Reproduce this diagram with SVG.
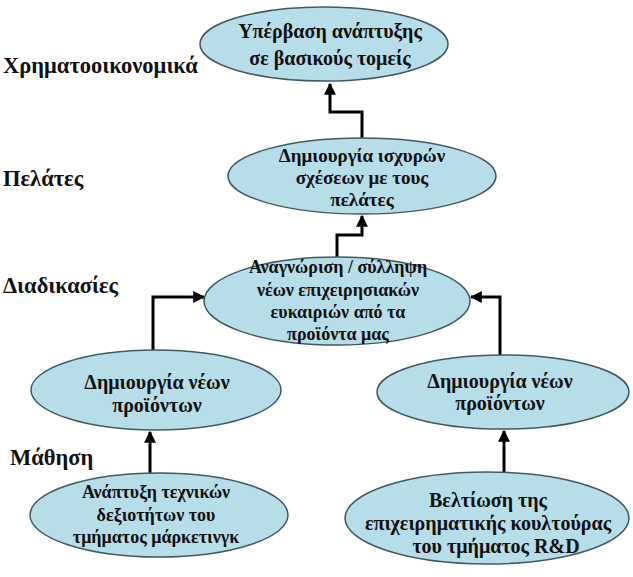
<svg xmlns="http://www.w3.org/2000/svg" width="633" height="577" viewBox="0 0 633 577">
<defs>
<style>
.node ellipse{fill:#b7dde8;stroke:#3f5a63;stroke-width:1.5}
.node text{font-family:"Liberation Serif","Times New Roman",serif;font-weight:bold;fill:#111;text-anchor:middle}
.lbl{font-family:"Liberation Serif","Times New Roman",serif;font-weight:bold;font-size:22.5px;fill:#111}
.conn path{fill:none;stroke:#000;stroke-width:3;marker-end:url(#ah)}
</style>
<marker id="ah" viewBox="0 0 10 10" refX="9" refY="5" markerWidth="4" markerHeight="4" markerUnits="strokeWidth" orient="auto">
<path d="M0,0 L10,5 L0,10 z" fill="#000"/>
</marker>
</defs>
<rect width="633" height="577" fill="#fff"/>
<g id="labels">
<text class="lbl" x="3" y="73">Χρηματοοικονομικά</text>
<text class="lbl" x="3" y="186">Πελάτες</text>
<text class="lbl" x="3" y="293">Διαδικασίες</text>
<text class="lbl" x="10" y="465">Μάθηση</text>
</g>
<g class="conn" id="connectors">
<path d="M362,138 V112 H330 V84"/>
<path d="M337,257 V235 H362 V216"/>
<path d="M153,350 V297 H204"/>
<path d="M500,355 V297 H471"/>
<path d="M150,473 V432"/>
<path d="M504,472 V431"/>
</g>
<g class="node" id="n1">
<ellipse cx="324" cy="44" rx="124" ry="37"/>
<text font-size="20" x="330" y="38">Υπέρβαση ανάπτυξης</text>
<text font-size="20" x="330" y="65">σε βασικούς τομείς</text>
</g>
<g class="node" id="n2">
<ellipse cx="362" cy="176" rx="134" ry="38"/>
<text font-size="19" x="362" y="162">Δημιουργία ισχυρών</text>
<text font-size="19" x="362" y="184">σχέσεων με τους</text>
<text font-size="19" x="362" y="206">πελάτες</text>
</g>
<g class="node" id="n3">
<ellipse cx="337" cy="301" rx="133" ry="44"/>
<text font-size="18" x="338" y="273">Αναγνώριση / σύλληψη</text>
<text font-size="18" x="338" y="296">νέων επιχειρησιακών</text>
<text font-size="18" x="338" y="318">ευκαιριών από τα</text>
<text font-size="18" x="338" y="340">προϊόντα μας</text>
</g>
<g class="node" id="n4">
<ellipse cx="156" cy="390" rx="125" ry="40"/>
<text font-size="20" x="157" y="389">Δημιουργία νέων</text>
<text font-size="20" x="157" y="412">προϊόντων</text>
</g>
<g class="node" id="n5">
<ellipse cx="503" cy="392" rx="126" ry="37"/>
<text font-size="20" x="500" y="388">Δημιουργία νέων</text>
<text font-size="20" x="500" y="410">προϊόντων</text>
</g>
<g class="node" id="n6">
<ellipse cx="159" cy="515" rx="129" ry="42"/>
<text font-size="18" x="156" y="498">Ανάπτυξη τεχνικών</text>
<text font-size="18" x="156" y="521">δεξιοτήτων  του</text>
<text font-size="18" x="156" y="543">τμήματος μάρκετινγκ</text>
</g>
<g class="node" id="n7">
<ellipse cx="487" cy="518" rx="142" ry="46"/>
<text font-size="20" x="488" y="507">Βελτίωση της</text>
<text font-size="20" x="488" y="530">επιχειρηματικής κουλτούρας</text>
<text font-size="20" x="496" y="553">του τμήματος R&amp;D</text>
</g>
</svg>
